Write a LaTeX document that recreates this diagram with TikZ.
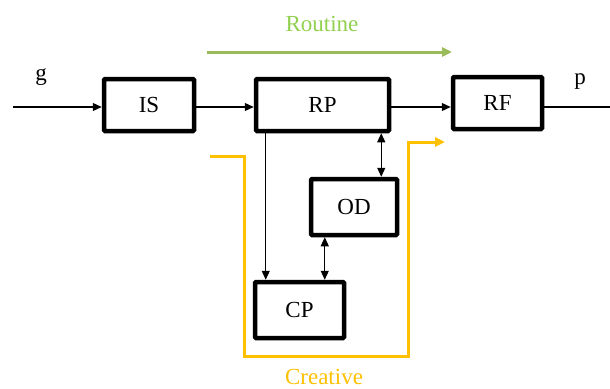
\documentclass[tikz,border=0pt]{standalone}
\usepackage{fontspec}
\setmainfont{Liberation Serif}
\usetikzlibrary{positioning, arrows.meta}

\definecolor{routinegreen}{HTML}{9BBB59}
\definecolor{routinetext}{HTML}{92D050}
\definecolor{creativeyellow}{HTML}{FFC000}

\begin{document}
\begin{tikzpicture}[
    x=1pt, y=-1pt,
    block/.style = {rectangle, draw, line width=4.5pt, rounded corners=1pt, align=center, font=\fontsize{23}{27}\selectfont},
    label/.style = {font=\fontsize{23}{27}\selectfont},
    arrow/.style = {-{Triangle[length=9pt,width=8pt]}, line width=1.2pt},
    bidirarrow/.style = {{Triangle[length=9pt,width=8pt]}-{Triangle[length=9pt,width=8pt]}, line width=1.2pt},
    flow/.style = {-{Triangle[length=10pt,width=9pt]}, line width=3pt}
]
\useasboundingbox (0,0) rectangle (610,388);

% Blocks
\node[block, minimum width=90pt, minimum height=52pt] (is) at (149,105) {IS};
\node[block, minimum width=133pt, minimum height=52pt] (rp) at (322.5,105) {RP};
\node[block, minimum width=89pt, minimum height=52pt] (rf) at (497.5,103) {RF};
\node[block, minimum width=86pt, minimum height=56pt] (od) at (354,207) {OD};
\node[block, minimum width=89pt, minimum height=56pt] (cp) at (299.5,310) {CP};

% Input and output
\coordinate (gin) at (13,107);
\coordinate (pout) at (610,107);
\node[label] (g) at (41,77) {g};
\node[label] (p) at (580,82) {p};

% Arrows
\draw[arrow] (gin) -- (gin -| is.west);
\draw[arrow] (is.east |- gin) -- (gin -| rp.west);
\draw[arrow] (rp.east |- gin) -- (gin -| rf.west);
\draw[line width=1.2pt] (rf.east |- gin) -- (pout);
\draw[arrow] ([xshift=12pt]rp.south west) -- ([xshift=12pt]rp.south west |- cp.north);
\draw[bidirarrow] ([xshift=-18pt]od.north east |- rp.south) -- ([xshift=-18pt]od.north east);
\draw[bidirarrow] ([xshift=16pt]od.south west) -- ([xshift=16pt]od.south west |- cp.north);

% Routine path
\coordinate (r0) at (207,52);
\coordinate (r1) at (452,52);
\draw[flow, routinegreen] (r0) -- (r1);
\node[label, text=routinetext] (routine) at (322,24) {Routine};

% Creative path
\coordinate (c0) at (210,156);
\coordinate (c1) at (244,156);
\coordinate (c2) at (244,356);
\coordinate (c3) at (408,356);
\coordinate (c4) at (408,142);
\coordinate (c5) at (445,142);
\draw[flow, creativeyellow] (c0) -- (c1) -- (c2) -- (c3) -- (c4) -- (c5);
\node[label, text=creativeyellow] (creative) at (324,377) {Creative};

\end{tikzpicture}
\end{document}
